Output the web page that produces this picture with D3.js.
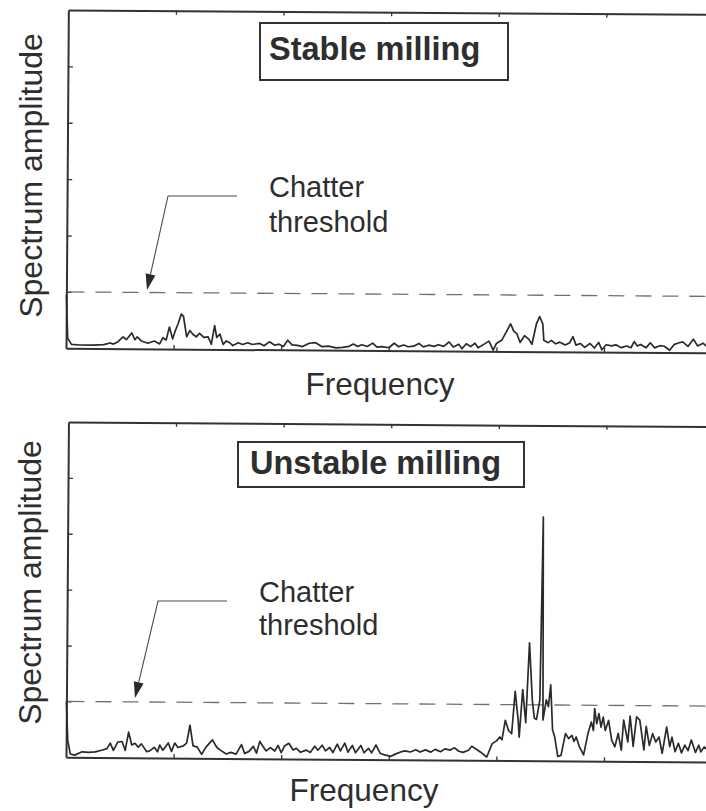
<!DOCTYPE html>
<html>
<head>
<meta charset="utf-8">
<script src="https://cdn.jsdelivr.net/npm/d3@7"></script>
<style>
  html, body { margin: 0; padding: 0; background: #ffffff; }
  svg { display: block; }
  text { font-family: "Liberation Sans", Arial, Helvetica, sans-serif; fill: #2e2e2e; }
</style>
</head>
<body>
<script>
// ---------------- DATA ----------------
const xTicks = [100, 200, 300, 400, 500];
const yTicks = [1, 2, 3, 4, 5];
const chatterThreshold = 1;
const freqDomain = [0, 600];
const ampDomain = [0, 6];

const stableFreq = [0,1.5,5,13,25,35,41,44,48,53,56,61,64,66,70,76,82,87,90,93,96,99,101,104,107,109,112,115,118,121,124,128,132,135,138,140,143,146,149,152,155,160,164,169,173,180,184,189,194,198,202,206,210,215,220,226,232,238,244,251,257,263,267,271,275,280,285,289,294,300,305,309,314,318,323,328,332,337,342,346,351,356,360,365,368,372,376,380,383,389,393,397,400,405,409,413,416,419,422,426,430,433,437,440,443,444,448,451,455,459,464,468,471,474,478,482,487,491,495,498,502,507,511,516,521,525,528,531,534,539,543,547,552,556,561,565,569,573,578,583,587,592,596,600];
const stableAmp = [0.95,0.18,0.07,0.06,0.06,0.07,0.1,0.08,0.12,0.21,0.16,0.28,0.16,0.21,0.14,0.1,0.14,0.09,0.2,0.16,0.39,0.18,0.3,0.45,0.62,0.58,0.22,0.33,0.26,0.22,0.28,0.21,0.22,0.09,0.42,0.21,0.27,0.09,0.15,0.12,0.07,0.12,0.09,0.12,0.09,0.11,0.07,0.14,0.08,0.1,0.06,0.17,0.09,0.08,0.06,0.12,0.13,0.06,0.07,0.04,0.05,0.07,0.11,0.07,0.1,0.07,0.13,0.06,0.07,0.05,0.13,0.07,0.1,0.07,0.08,0.13,0.07,0.1,0.08,0.11,0.08,0.16,0.07,0.12,0.04,0.13,0.08,0.14,0.06,0.13,0.18,0.02,0.14,0.2,0.34,0.49,0.36,0.31,0.16,0.28,0.22,0.13,0.49,0.62,0.49,0.2,0.16,0.2,0.14,0.17,0.12,0.16,0.27,0.12,0.15,0.08,0.15,0.07,0.17,0.04,0.13,0.11,0.13,0.08,0.11,0.08,0.19,0.11,0.14,0.08,0.17,0.08,0.12,0.11,0.04,0.14,0.17,0.19,0.11,0.24,0.12,0.17,0.1,0.12];

const unstableFreq = [0,1.5,4,8,15,21,27,33,38,41,44,48,52,55,58,61,64,67,70,75,78,82,85,87,90,95,98,101,104,109,112,115,118,122,126,130,136,140,144,149,153,158,163,166,170,174,177,180,183,186,190,194,197,200,203,207,211,214,218,223,227,231,234,238,241,245,248,252,255,259,262,266,269,274,277,281,284,288,292,297,302,306,311,315,320,325,329,334,339,343,348,352,357,361,365,369,374,377,382,385,391,396,400,403,405,408,411,414,417,420,421,424,427,430,433,435,437,440,442,443,446,448,450,452,454,457,460,464,467,470,472,474,477,481,485,488,490,491,493,495,497,499,501,504,507,510,513,516,518,522,524,527,530,533,537,539,542,545,548,551,554,558,561,563,566,569,572,575,578,581,585,588,590,593,597,600];
const unstableAmp = [1.0,0.3,0.06,0.04,0.1,0.09,0.1,0.13,0.16,0.26,0.13,0.28,0.29,0.13,0.46,0.23,0.26,0.19,0.25,0.11,0.13,0.19,0.11,0.23,0.14,0.27,0.12,0.27,0.19,0.22,0.27,0.59,0.22,0.2,0.07,0.2,0.33,0.2,0.14,0.08,0.11,0.08,0.25,0.09,0.13,0.22,0.1,0.31,0.22,0.14,0.2,0.14,0.24,0.11,0.23,0.28,0.16,0.19,0.12,0.16,0.12,0.23,0.16,0.25,0.15,0.21,0.12,0.27,0.15,0.29,0.13,0.25,0.12,0.25,0.12,0.2,0.12,0.26,0.11,0.08,0.06,0.1,0.14,0.16,0.14,0.18,0.14,0.18,0.14,0.19,0.15,0.2,0.18,0.22,0.16,0.14,0.18,0.25,0.19,0.15,0.06,0.3,0.35,0.42,0.37,0.72,0.54,0.48,1.24,0.72,0.42,1.27,0.68,2.11,1.08,0.76,0.74,1.09,4.36,0.73,1.09,0.97,1.36,0.55,0.43,0.08,0.1,0.49,0.4,0.46,0.35,0.43,0.26,0.11,0.5,0.7,0.55,0.94,0.67,0.85,0.61,0.79,0.55,0.73,0.38,0.26,0.5,0.2,0.74,0.35,0.81,0.27,0.8,0.74,0.21,0.63,0.29,0.5,0.35,0.44,0.15,0.62,0.27,0.44,0.18,0.33,0.16,0.3,0.2,0.39,0.17,0.3,0.18,0.27,0.2,0.25];

const titles = ["Stable milling", "Unstable milling"];
const yLabel = "Spectrum amplitude";
const xLabel = "Frequency";
const noteLines = ["Chatter", "threshold"];

// ---------------- LAYOUT ----------------
const W = 706, H = 811;
const svg = d3.select("body").append("svg").attr("width", W).attr("height", H);
const ink = "#333333";

const panels = [
  { freq: stableFreq, amp: stableAmp, title: titles[0],
    left: 66, right: 711.6, bottom: 348.3, unit: 56.4, angle: 0.40,
    box: [260, 23, 248, 57], titleX: 269, titleY: 60,
    noteX: 269, noteY: [197, 232],
    leader: [[237, 196], [168, 196], [147, 290]],
    yLabelX: 42, yLabelY: 175.5, xLabelX: 380, xLabelY: 395 },
  { freq: unstableFreq, amp: unstableAmp, title: titles[1],
    left: 66, right: 711.6, bottom: 757.3, unit: 55.9, angle: 0.42,
    box: [238, 442, 286, 45], titleX: 250, titleY: 474,
    noteX: 259, noteY: [602, 635],
    leader: [[227, 601], [158, 601], [135, 698]],
    yLabelX: 41, yLabelY: 582.5, xLabelX: 364, xLabelY: 801 }
];

panels.forEach(p => {
  const x = d3.scaleLinear().domain(freqDomain).range([p.left, p.right]);
  const y = d3.scaleLinear().domain(ampDomain).range([p.bottom, p.bottom - 6 * p.unit]);
  const top = y(ampDomain[1]);

  const g = svg.append("g").attr("transform", `rotate(${p.angle}, ${p.left}, ${p.bottom})`);

  const styleAxis = sel => {
    sel.select(".domain").attr("stroke", ink).attr("stroke-width", 2);
    sel.selectAll(".tick line").attr("stroke", ink).attr("stroke-width", 1.3);
  };

  g.append("g").attr("transform", `translate(0,${p.bottom})`)
    .call(d3.axisBottom(x).tickValues(xTicks).tickSize(-4).tickSizeOuter(0).tickFormat(""))
    .call(styleAxis);
  g.append("g").attr("transform", `translate(0,${top})`)
    .call(d3.axisTop(x).tickValues(xTicks).tickSize(-4).tickSizeOuter(0).tickFormat(""))
    .call(styleAxis);
  g.append("g").attr("transform", `translate(${p.left},0)`)
    .call(d3.axisLeft(y).tickValues(yTicks).tickSize(-5).tickSizeOuter(0).tickFormat(""))
    .call(styleAxis);
  g.append("g").attr("transform", `translate(${p.right},0)`)
    .call(d3.axisRight(y).tickValues(yTicks).tickSize(-5).tickSizeOuter(0).tickFormat(""))
    .call(styleAxis);

  // threshold dashed line
  g.append("line")
    .attr("x1", x(freqDomain[0]) + 2).attr("x2", x(freqDomain[1]))
    .attr("y1", y(chatterThreshold)).attr("y2", y(chatterThreshold))
    .attr("stroke", "#707070").attr("stroke-width", 1.3)
    .attr("stroke-dasharray", "16,11");

  // spectrum line
  const pts = p.freq.map((f, i) => [f, p.amp[i]]);
  g.append("path").datum(pts)
    .attr("fill", "none").attr("stroke", "#2a2a2a").attr("stroke-width", 1.7)
    .attr("stroke-linejoin", "round")
    .attr("d", d3.line().x(d => x(d[0])).y(d => y(d[1])));

  // title box
  svg.append("rect")
    .attr("x", p.box[0]).attr("y", p.box[1]).attr("width", p.box[2]).attr("height", p.box[3])
    .attr("fill", "none").attr("stroke", ink).attr("stroke-width", 2);
  svg.append("text").attr("x", p.titleX).attr("y", p.titleY)
    .attr("font-size", 32.5).attr("font-weight", "bold").text(p.title);

  // note
  noteLines.forEach((t, i) => {
    svg.append("text").attr("x", p.noteX).attr("y", p.noteY[i])
      .attr("font-size", 29).text(t);
  });

  // leader + arrowhead
  const [a, b, tip] = p.leader;
  const dx = tip[0] - b[0], dy = tip[1] - b[1];
  const len = Math.hypot(dx, dy), ux = dx / len, uy = dy / len;
  const headLen = 16, headHalf = 5;
  const bx = tip[0] - ux * headLen, by = tip[1] - uy * headLen;
  svg.append("path")
    .attr("d", `M${a[0]},${a[1]}L${b[0]},${b[1]}L${bx},${by}`)
    .attr("fill", "none").attr("stroke", "#4a4a4a").attr("stroke-width", 1.1);
  svg.append("path")
    .attr("d", `M${tip[0]},${tip[1]}L${bx - uy * headHalf},${by + ux * headHalf}L${bx + uy * headHalf},${by - ux * headHalf}Z`)
    .attr("fill", "#2a2a2a");

  // axis labels
  svg.append("text")
    .attr("transform", `translate(${p.yLabelX},${p.yLabelY}) rotate(-90)`)
    .attr("text-anchor", "middle").attr("font-size", 32).text(yLabel);
  svg.append("text").attr("x", p.xLabelX).attr("y", p.xLabelY)
    .attr("text-anchor", "middle").attr("font-size", 31.5).text(xLabel);
});
</script>
</body>
</html>
